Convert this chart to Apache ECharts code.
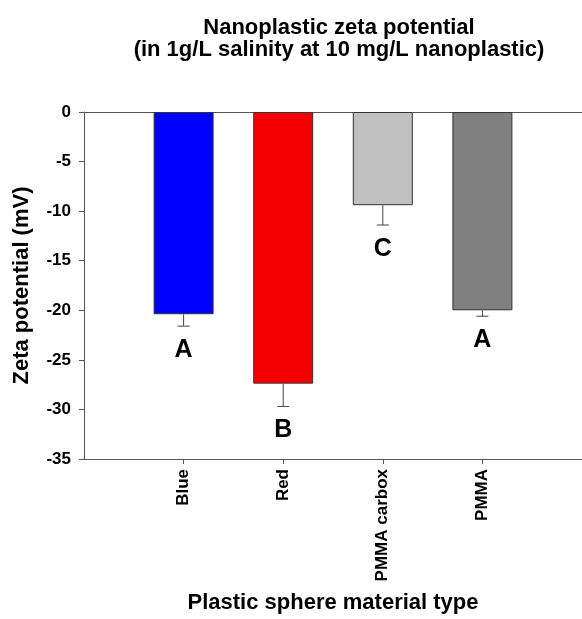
<!DOCTYPE html>
<html>
<head>
<meta charset="utf-8">
<script src="https://cdn.jsdelivr.net/npm/echarts@6/dist/echarts.min.js"></script>
<style>
html,body{margin:0;padding:0;background:#fff;}
#chart{width:582px;height:619px;}
</style>
</head>
<body>
<div id="chart"></div>
<script>
const categories = ['Blue', 'Red', 'PMMA carbox', 'PMMA'];
const means = [-20.4, -27.4, -9.4, -20.0];
const errors = [1.2, 2.3, 2.0, 0.6];
const letters = ['A', 'B', 'C', 'A'];
const colors = ['#0000ff', '#f40000', '#c0c0c0', '#808080'];
const yTicks = [0, -5, -10, -15, -20, -25, -30, -35];

const FONT = 'Liberation Sans, Arial, sans-serif';
const axisData = [''].concat(categories, ['']);

const chart = echarts.init(document.getElementById('chart'));
chart.setOption({
  animation: false,
  backgroundColor: '#fff',
  title: {
    text: 'Nanoplastic zeta potential\n(in 1g/L salinity at 10 mg/L nanoplastic)',
    left: 334,
    top: 12,
    textAlign: 'center',
    textStyle: { fontFamily: FONT, fontWeight: 'bold', fontSize: 22, color: '#000', lineHeight: 22 }
  },
  grid: { left: 84, right: 0, top: 112, bottom: 158, containLabel: false },
  xAxis: [{
    type: 'category',
    data: axisData,
    boundaryGap: false,
    position: 'bottom',
    name: 'Plastic sphere material type',
    nameLocation: 'middle',
    nameGap: 133,
    nameTextStyle: { fontFamily: FONT, fontWeight: 'bold', fontSize: 22, color: '#000' },
    axisLine: { show: true, onZero: false, lineStyle: { color: '#555', width: 1 } },
    axisTick: { show: true, length: 5, interval: function (i) { return i > 0 && i < axisData.length - 1; }, lineStyle: { color: '#555' } },
    axisLabel: { rotate: 90, margin: 10, interval: 0, fontFamily: FONT, fontWeight: 'bold', fontSize: 17, color: '#000' },
    splitLine: { show: false }
  }, {
    type: 'category',
    data: axisData,
    boundaryGap: false,
    position: 'top',
    axisLine: { show: true, onZero: false, lineStyle: { color: '#555', width: 1 } },
    axisTick: { show: false },
    axisLabel: { show: false },
    splitLine: { show: false }
  }],
  yAxis: {
    type: 'value',
    min: -35,
    max: 0,
    interval: 5,
    name: 'Zeta potential (mV)',
    nameLocation: 'middle',
    nameGap: 51,
    nameTextStyle: { fontFamily: FONT, fontWeight: 'bold', fontSize: 22, color: '#000' },
    axisLine: { show: true, onZero: false, lineStyle: { color: '#555', width: 1 } },
    axisTick: { show: true, length: 5, lineStyle: { color: '#555' } },
    axisLabel: {
      margin: 13, fontFamily: FONT, fontWeight: 'bold', fontSize: 17, color: '#000',
      customValues: yTicks
    },
    splitLine: { show: false }
  },
  series: [{
    type: 'bar',
    barWidth: 60,
    data: categories.map(function (c, i) {
      return { value: [i + 1, means[i]], itemStyle: { color: colors[i], borderColor: '#333', borderWidth: 1 } };
    })
  }, {
    type: 'custom',
    data: categories.map(function (c, i) { return [i + 1, means[i], means[i] - errors[i], i]; }),
    renderItem: function (params, api) {
      const top = api.coord([api.value(0), api.value(1)]);
      const bot = api.coord([api.value(0), api.value(2)]);
      const idx = api.value(3);
      const stroke = { stroke: '#444', lineWidth: 1 };
      return {
        type: 'group',
        children: [
          { type: 'line', shape: { x1: top[0], y1: top[1], x2: bot[0], y2: bot[1] }, style: stroke },
          { type: 'line', shape: { x1: bot[0] - 6, y1: bot[1], x2: bot[0] + 6, y2: bot[1] }, style: stroke },
          { type: 'text', style: { text: letters[idx], x: bot[0], y: bot[1] + 24, align: 'center', verticalAlign: 'middle', font: 'bold 25px ' + FONT, fill: '#000' } }
        ]
      };
    },
    z: 5
  }]
});
</script>
</body>
</html>
